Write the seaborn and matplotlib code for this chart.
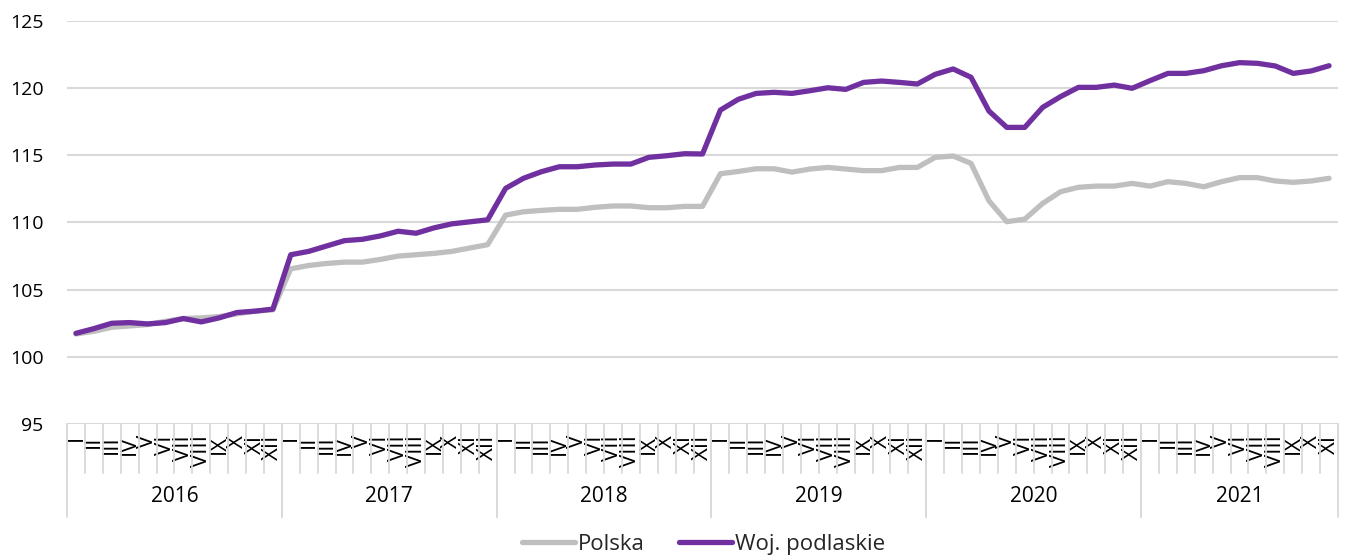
import numpy as np
import pandas as pd
import matplotlib
matplotlib.use("Agg")
import matplotlib.pyplot as plt
import seaborn as sns
from matplotlib.transforms import blended_transform_factory

# ---------------- data ----------------
years = ["2016", "2017", "2018", "2019", "2020", "2021"]
months_in_year = [12, 12, 12, 12, 12, 11]
roman = ["I", "II", "III", "IV", "V", "VI", "VII", "VIII", "IX", "X", "XI", "XII"]
series_names = ["Polska", "Woj. podlaskie"]
series_colors = ["#bfbfbf", "#7030a0"]

polska = [
    101.7, 101.9, 102.2, 102.3, 102.4, 102.65, 102.85, 102.9, 103.0, 103.2, 103.4, 103.5,
    106.55, 106.8, 106.95, 107.05, 107.05, 107.25, 107.5, 107.6, 107.7, 107.85, 108.1, 108.35,
    110.55, 110.8, 110.9, 110.98, 110.98, 111.13, 111.23, 111.23, 111.1, 111.1, 111.2, 111.2,
    113.63, 113.8, 114.0, 114.0, 113.75, 113.98, 114.1, 113.98, 113.86, 113.86, 114.1, 114.1,
    114.85, 114.95, 114.4, 111.62, 110.06, 110.25, 111.42, 112.29, 112.62, 112.71, 112.71, 112.91,
    112.71, 113.04, 112.91, 112.66, 113.04, 113.34, 113.34, 113.09, 112.99, 113.09, 113.29,
]
podlaskie = [
    101.75, 102.1, 102.5, 102.55, 102.45, 102.55, 102.85, 102.6, 102.9, 103.3, 103.4, 103.55,
    107.6, 107.85, 108.25, 108.65, 108.75, 109.0, 109.35, 109.2, 109.6, 109.9, 110.05, 110.2,
    112.54, 113.29, 113.78, 114.15, 114.15, 114.28, 114.35, 114.35, 114.85, 114.97, 115.12, 115.1,
    118.37, 119.17, 119.61, 119.69, 119.61, 119.81, 120.03, 119.91, 120.43, 120.53, 120.43, 120.31,
    121.03, 121.43, 120.81, 118.3, 117.08, 117.08, 118.57, 119.37, 120.06, 120.06, 120.23, 119.99,
    120.56, 121.1, 121.1, 121.3, 121.67, 121.9, 121.85, 121.65, 121.1, 121.28, 121.67,
]
y_ticks = [95, 100, 105, 110, 115, 120, 125]

# ---------------- style ----------------
sns.set_theme(style="white")
plt.rcParams['font.family'] = ['Open Sans', 'DejaVu Sans']

n = len(polska)
df = pd.DataFrame({
    "idx": list(range(n)) * 2,
    "value": polska + podlaskie,
    "series": [series_names[0]] * n + [series_names[1]] * n,
})

W, H = 1345, 558
fig = plt.figure(figsize=(W / 100, H / 100), dpi=100)
ax = fig.add_axes([67 / W, 1 - 424 / H, (1338 - 67) / W, (424 - 21) / H])

sns.lineplot(data=df, x="idx", y="value", hue="series", hue_order=series_names,
             palette=dict(zip(series_names, series_colors)), linewidth=3.8,
             ax=ax, legend=False)
for ln in ax.lines:
    ln.set_solid_capstyle('round')
    ln.set_solid_joinstyle('round')

ax.set_xlim(-0.5, n - 0.5)
ax.set_ylim(y_ticks[0], y_ticks[-1])
ax.set_yticks(y_ticks)
ax.yaxis.grid(True, color="#d9d9d9", lw=1.5)
ax.xaxis.grid(False)
ax.set_axisbelow(True)
for s in ax.spines.values():
    s.set_visible(False)
ax.set_xlabel("")
ax.set_ylabel("")
ax.tick_params(axis='y', length=0, pad=17, labelsize=14, labelcolor='#000000')

# month labels (Roman numerals, rotated as in the reference)
month_labels = [roman[m] for k in months_in_year for m in range(k)]
ax.set_xticks(range(n))
ax.set_xticklabels(month_labels, rotation=90, fontsize=16, color='#000000')
ax.tick_params(axis='x', length=0, pad=8)

trans = blended_transform_factory(ax.transData, ax.transAxes)
# month separators
for b in np.arange(-0.5, n, 1.0):
    ax.plot([b, b], [0, -0.122], transform=trans, color="#d9d9d9", lw=1.3, clip_on=False)
# year separators and year labels
start = 0
for yr, cnt in zip(years, months_in_year):
    b0 = start - 0.5
    b1 = start + cnt - 0.5
    for b in (b0, b1):
        ax.plot([b, b], [0, -0.231], transform=trans, color="#d9d9d9", lw=1.3, clip_on=False)
    ax.text(start + (cnt - 1) / 2, -0.181, yr, transform=trans, ha='center', va='center',
            fontsize=15, color='#000000')
    start += cnt

fig.legend(handles=ax.lines[:2], labels=series_names, loc='center',
           bbox_to_anchor=(0.523, 0.025), ncol=2, frameon=False, fontsize=16,
           handlelength=2.4, handletextpad=0.12, columnspacing=1.55)

fig.savefig("out.png", dpi=100, facecolor='white')
